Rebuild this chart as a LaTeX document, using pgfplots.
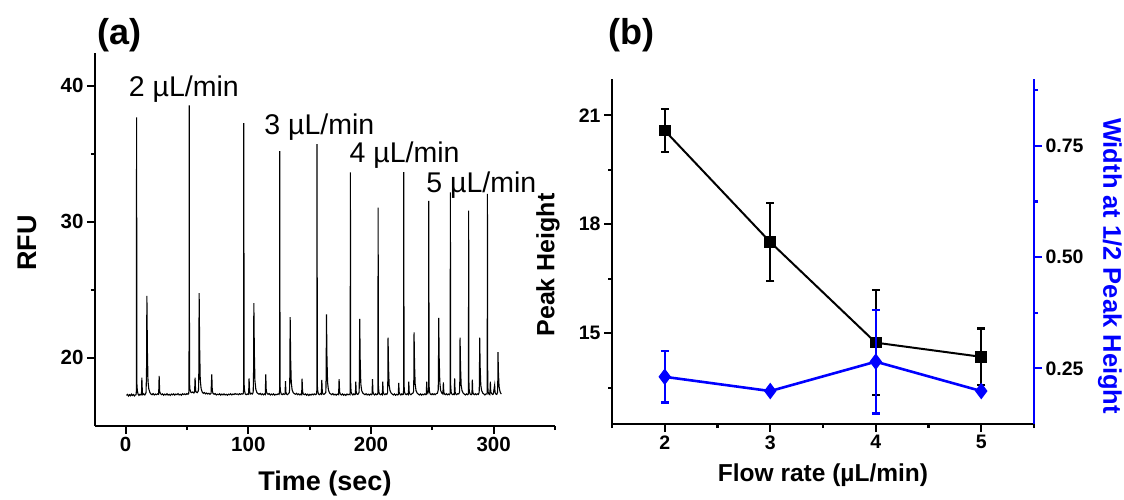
\documentclass[border=0pt]{standalone}
\usepackage{fontspec}
\setmainfont{Liberation Sans}
\usepackage{pgfplots}
\pgfplotsset{compat=1.18}
\definecolor{pblue}{RGB}{0,0,255}
\newcommand{\tfont}{\fontsize{20.5}{20.5}\selectfont\bfseries}
\newcommand{\bfont}{\fontsize{19.5}{19.5}\selectfont\bfseries}
\begin{document}
\begin{tikzpicture}
\useasboundingbox (0pt,0pt) rectangle (1124pt,499pt);
% ---------------- panel (a)
\begin{axis}[
  at={(95pt,73pt)}, anchor=south west,
  scale only axis, width=460pt, height=373pt,
  xmin=-25, xmax=350, ymin=15, ymax=42.4,
  axis lines*=left, axis line style={line width=2.4pt,-},
  tick align=outside, major tick length=8pt, minor tick length=4pt,
  every tick/.style={black,line width=2.2pt},
  xtick={0,100,200,300}, minor xtick={50,150,250,350},
  ytick={20,30,40}, minor ytick={25,35},
  /pgf/number format/assume math mode=true,
  tick label style={font=\tfont},
  xlabel={\fontsize{27}{27}\selectfont\bfseries Time (sec)},
  ylabel={\fontsize{27}{27}\selectfont\bfseries RFU},
  xlabel style={at={(axis description cs:0.5,-0.172)}, anchor=base},
  ylabel style={at={(axis description cs:-0.148,0.49)}, anchor=center, rotate=0},
  clip=false,
]
\addplot[black, line width=1.1pt] coordinates {
(0.7,17.25)(1.5,17.32)(2.3,17.20)(3.1,17.30)(3.9,17.22)(4.7,17.34)(5.5,17.24)(6.3,17.31)(7.1,17.21)(7.8,17.28)
(8.5,17.30)(8.75,17.6)(8.9,37.67)(9.15,18.1)(9.5,17.6)(10.1,17.35)
(10.8,17.25)(11.6,17.33)(12.4,17.28)
(12.9,17.3)(13.2,18.55)(13.6,17.5)(14.1,17.3)
(14.8,17.36)(15.6,17.28)(16.4,17.40)
(16.6,17.45)(17.0,18.8)(17.3,24.56)(17.7,20.6)(18.2,18.3)(18.9,17.7)(19.8,17.45)
(20.6,17.35)(21.5,17.30)(22.4,17.38)(23.3,17.28)(24.2,17.35)(25.1,17.30)(26.0,17.36)(26.9,17.32)
(27.3,18.68)(27.7,17.55)(28.3,17.38)
(29.2,17.30)(30.1,17.36)(31.0,17.26)(31.9,17.34)(32.8,17.28)(33.7,17.37)(34.6,17.27)(35.5,17.33)(36.4,17.25)(37.3,17.35)(38.2,17.29)(39.1,17.36)(40.0,17.27)(40.9,17.34)(41.8,17.30)(42.7,17.38)(43.6,17.28)(44.5,17.33)(45.4,17.26)(46.3,17.37)(47.2,17.31)(48.1,17.36)(49.0,17.30)(49.9,17.38)(50.8,17.33)(51.4,17.40)
(51.65,17.7)(51.8,38.55)(52.05,18.2)(52.4,17.7)(53.0,17.5)
(53.8,17.45)(54.7,17.50)(55.6,17.42)(56.2,17.5)
(56.6,18.55)(57.0,17.6)(57.5,17.5)
(58.3,17.45)(59.1,17.55)
(59.4,17.7)(59.65,19.0)(59.9,24.76)(60.3,20.8)(60.8,18.4)(61.5,17.75)(62.4,17.5)
(63.3,17.40)(64.2,17.46)(65.1,17.36)(66.0,17.42)(66.9,17.35)(67.8,17.40)(68.7,17.33)(69.6,17.40)
(70.2,18.8)(70.6,17.6)(71.2,17.4)
(72.1,17.33)(73.0,17.38)(73.9,17.28)(74.8,17.34)(75.7,17.30)(76.6,17.37)(77.5,17.27)(78.4,17.35)(79.3,17.29)(80.2,17.36)(81.1,17.28)(82.0,17.33)(82.9,17.26)(83.8,17.34)(84.7,17.30)(85.6,17.37)(86.5,17.28)(87.4,17.35)(88.3,17.31)(89.2,17.38)(90.1,17.33)(91.0,17.36)(91.9,17.30)(92.8,17.37)(93.7,17.32)(94.6,17.38)(95.5,17.34)(95.95,17.4)
(96.15,17.7)(96.3,37.25)(96.55,18.1)(96.9,17.6)(97.5,17.35)(98.3,17.30)(99.1,17.36)(99.9,17.32)
(100.25,17.35)(100.6,18.5)(101.0,17.55)(101.6,17.35)
(102.4,17.40)(103.2,17.35)(103.9,17.45)
(104.0,17.6)(104.25,18.9)(104.5,24.02)(104.9,20.4)(105.4,18.3)(106.1,17.7)(107.0,17.45)
(107.9,17.38)(108.8,17.33)(109.7,17.40)(110.6,17.30)(111.5,17.36)(112.4,17.29)(113.3,17.36)(113.85,17.32)
(114.2,18.8)(114.6,17.6)(115.2,17.4)
(116.1,17.33)(117.0,17.38)(117.9,17.28)(118.8,17.35)(119.7,17.29)(120.6,17.36)(121.5,17.27)(122.4,17.33)(123.3,17.30)(124.2,17.36)(125.1,17.32)
(125.45,17.6)(125.6,35.2)(125.85,18.0)(126.2,17.55)(126.8,17.35)(127.6,17.30)(128.4,17.38)(129.2,17.32)(129.95,17.36)
(130.3,18.3)(130.6,17.5)(131.1,17.35)(131.9,17.30)(132.7,17.38)(133.4,17.45)
(133.65,17.7)(133.85,18.8)(134.1,23.0)(134.5,19.9)(135.0,18.2)(135.7,17.65)(136.6,17.45)
(137.5,17.38)(138.4,17.33)(139.3,17.40)(140.2,17.30)(141.1,17.36)(142.0,17.28)(142.9,17.35)(143.5,17.3)
(143.8,18.48)(144.2,17.55)(144.8,17.35)
(145.7,17.30)(146.6,17.36)(147.5,17.26)(148.4,17.34)(149.3,17.24)(150.2,17.33)(151.1,17.27)(152.0,17.35)(152.9,17.29)(153.8,17.36)(154.7,17.30)(155.5,17.34)
(155.85,17.6)(156.0,35.7)(156.25,18.0)(156.6,17.55)(157.2,17.35)(158.0,17.30)(158.8,17.38)(159.55,17.33)
(159.9,18.38)(160.3,17.5)(160.8,17.35)(161.6,17.32)(162.4,17.38)(163.1,17.45)
(163.25,17.65)(163.45,18.9)(163.7,23.2)(164.1,20.0)(164.6,18.2)(165.3,17.65)(166.2,17.42)
(167.1,17.36)(168.0,17.30)(168.9,17.38)(169.8,17.28)(170.7,17.34)(171.6,17.27)(172.5,17.35)(173.6,17.3)
(174.0,18.45)(174.4,17.5)(175.0,17.35)
(175.9,17.28)(176.8,17.36)(177.7,17.26)(178.6,17.33)(179.5,17.25)(180.4,17.35)(181.3,17.29)(182.2,17.34)(182.9,17.3)
(183.05,17.6)(183.2,33.63)(183.45,18.0)(183.8,17.5)(184.4,17.35)(185.2,17.28)(186.0,17.36)(186.8,17.30)(187.3,17.34)
(187.6,18.25)(187.95,17.5)(188.5,17.35)(189.3,17.32)(190.2,17.45)
(190.35,17.6)(190.55,18.7)(190.8,22.87)(191.2,19.8)(191.7,18.1)(192.4,17.6)(193.3,17.42)
(194.2,17.35)(195.1,17.30)(196.0,17.37)(196.9,17.28)(197.8,17.34)(198.7,17.27)(199.6,17.35)(200.5,17.30)(200.9,17.33)
(201.2,18.45)(201.6,17.5)(202.2,17.35)(203.0,17.28)(203.8,17.36)(204.6,17.30)(205.5,17.34)
(205.65,17.6)(205.8,31.05)(206.05,17.95)(206.4,17.5)(207.0,17.35)(207.8,17.30)(208.6,17.36)(209.3,17.3)
(209.6,18.25)(209.95,17.5)(210.5,17.35)(211.3,17.30)(212.1,17.36)(212.9,17.32)(213.5,17.45)
(213.7,18.3)(213.9,21.49)(214.3,19.3)(214.8,18.0)(215.5,17.6)(216.4,17.42)
(217.3,17.35)(218.2,17.28)(219.1,17.36)(220.0,17.26)(220.9,17.33)(221.8,17.28)(222.3,17.32)
(222.6,18.17)(222.95,17.5)(223.5,17.35)(224.3,17.28)(225.1,17.36)(225.9,17.30)(226.4,17.34)
(226.55,17.6)(226.7,33.65)(226.95,18.0)(227.3,17.5)(227.9,17.35)(228.7,17.30)(229.5,17.37)(230.5,17.3)
(230.8,18.25)(231.15,17.5)(231.7,17.35)(232.5,17.30)(233.3,17.37)(234.3,17.42)
(234.7,17.55)(234.9,18.4)(235.1,21.88)(235.5,19.5)(236.0,18.1)(236.7,17.6)(237.6,17.42)
(238.5,17.35)(239.4,17.28)(240.3,17.36)(241.2,17.27)(242.1,17.34)(243.0,17.29)(243.9,17.36)(244.7,17.30)(245.1,17.33)
(245.4,18.25)(245.75,17.5)(246.3,17.4)(246.95,17.6)
(247.1,31.54)(247.35,17.95)(247.7,17.5)(248.3,17.35)(249.1,17.30)(249.9,17.37)(250.7,17.30)(251.5,17.36)(252.3,17.30)(253.1,17.37)(254.0,17.4)(254.4,17.5)
(254.8,17.65)(255.0,18.9)(255.2,22.94)(255.6,19.9)(256.1,18.2)(256.8,17.6)(257.7,17.42)(258.6,17.35)
(259.0,18.2)(259.35,17.5)(259.9,17.35)(260.7,17.30)(261.5,17.37)(262.3,17.29)(263.1,17.35)(263.9,17.30)(264.5,17.4)
(264.55,17.6)(264.7,32.16)(264.95,18.0)(265.3,17.5)(265.9,17.35)(266.7,17.30)(267.5,17.36)(267.9,17.33)
(268.2,18.5)(268.55,17.5)(269.1,17.35)(269.9,17.30)(270.7,17.37)(271.5,17.35)(272.1,17.45)
(272.2,17.55)(272.4,18.3)(272.6,21.49)(273.0,19.3)(273.5,18.0)(274.2,17.6)(275.1,17.42)
(276.0,17.35)(276.9,17.28)(277.8,17.36)(278.7,17.30)(279.4,17.36)
(279.45,17.6)(279.6,30.83)(279.85,17.95)(280.2,17.5)(280.8,17.35)(281.6,17.30)(282.3,17.36)
(282.6,18.4)(282.95,17.5)(283.5,17.35)(284.3,17.30)(285.1,17.37)(285.9,17.30)(286.7,17.36)(287.5,17.32)(288.1,17.45)
(288.2,17.55)(288.4,18.3)(288.6,21.49)(289.0,19.3)(289.5,18.0)(290.2,17.6)(291.1,17.42)
(292.0,17.35)(292.9,17.28)(293.8,17.36)(294.6,17.35)
(294.75,17.6)(294.9,32.06)(295.15,18.0)(295.5,17.5)(296.1,17.35)(296.9,17.30)
(297.3,18.25)(297.65,17.5)(298.2,17.4)(299.0,17.32)(299.7,17.35)
(300.8,18.0)(301.15,17.45)(301.8,17.35)(302.5,17.32)(303.1,17.45)
(303.2,17.6)(303.35,18.1)(303.5,20.42)(303.9,18.9)(304.4,17.9)(305.1,17.55)(305.8,17.40)(306.3,17.35)
};
\node[anchor=base west, font=\fontsize{28.5}{28.5}\selectfont, inner sep=0pt] at (axis cs:2.5,39.2) {2 µL/min};
\node[anchor=base west, font=\fontsize{28.5}{28.5}\selectfont, inner sep=0pt] at (axis cs:113,36.4) {3 µL/min};
\node[anchor=base west, font=\fontsize{28.5}{28.5}\selectfont, inner sep=0pt] at (axis cs:182.5,34.32) {4 µL/min};
\node[anchor=base west, font=\fontsize{28.5}{28.5}\selectfont, inner sep=0pt] at (axis cs:245,32.15) {5 µL/min};
\end{axis}
% ---------------- panel (b), left axis
\begin{axis}[
  at={(612pt,75pt)}, anchor=south west,
  scale only axis, width=422pt, height=345pt,
  xmin=1.5, xmax=5.5, ymin=12.5, ymax=22,
  axis x line*=bottom, axis y line*=left, axis line style={line width=2.4pt,-},
  tick align=outside, major tick length=8pt, minor tick length=4pt,
  every tick/.style={black,line width=2.2pt},
  xtick={2,3,4,5}, minor xtick={1.5,2.5,3.5,4.5,5.5},
  ytick={15,18,21}, minor ytick={13.5,16.5,19.5},
  /pgf/number format/assume math mode=true,
  tick label style={font=\bfont},
  xlabel={\fontsize{24.5}{24.5}\selectfont\bfseries Flow rate (µL/min)},
  ylabel={\fontsize{25}{25}\selectfont\bfseries Peak Height},
  xlabel style={at={(axis description cs:0.5,-0.168)}, anchor=base},
  ylabel style={at={(axis description cs:-0.152,0.461)}, anchor=center},
  clip=false,
]
\addplot[black, line width=2pt, mark=square*, mark size=4.8pt,
  error bars/.cd, y dir=both, y explicit,
  error bar style={line width=2.2pt, black},
  error mark options={rotate=90, mark size=4pt, line width=2.2pt, black}]
coordinates {
(2,20.58) +- (0,0.59)
(3,17.51) +- (0,1.08)
(4,14.74) +- (0,1.45)
(5,14.35) +- (0,0.78)
};
\end{axis}
% ---------------- panel (b), right axis
\begin{axis}[
  at={(612pt,75pt)}, anchor=south west,
  scale only axis, width=422pt, height=345pt,
  xmin=1.5, xmax=5.5, ymin=0.125, ymax=0.9,
  axis x line=none, axis y line*=right,
  axis line style={line width=2.4pt,-,pblue},
  tick align=outside, major tick length=8pt, minor tick length=4pt,
  every tick/.style={pblue,line width=2.2pt},
  ytick={0.25,0.5,0.75}, minor ytick={0.375,0.625,0.875},
  /pgf/number format/assume math mode=true,
  yticklabel style={font=\bfont, /pgf/number format/.cd, fixed, fixed zerofill, precision=2},
  ylabel={\fontsize{25.5}{25.5}\selectfont\bfseries Width at 1/2 Peak Height},
  ylabel style={at={(axis description cs:1.18,0.458)}, anchor=center, rotate=180, pblue},
  clip=false,
]
\addplot[pblue, line width=2.6pt, mark=diamond*, mark size=7.5pt,
  mark options={line width=1pt},
  error bars/.cd, y dir=both, y explicit,
  error bar style={line width=2.4pt, pblue},
  error mark options={rotate=90, mark size=4pt, line width=2.4pt, pblue}]
coordinates {
(2,0.231) +- (0,0.058)
(3,0.199) +- (0,0)
(4,0.265) +- (0,0.116)
(5,0.199) +- (0,0)
};
\end{axis}
% panel letters
\node[anchor=base west, inner sep=0pt, font=\fontsize{36}{36}\selectfont\bfseries] at (97pt,454pt) {(a)};
\node[anchor=base west, inner sep=0pt, font=\fontsize{36}{36}\selectfont\bfseries] at (608pt,454pt) {(b)};
\end{tikzpicture}
\end{document}
